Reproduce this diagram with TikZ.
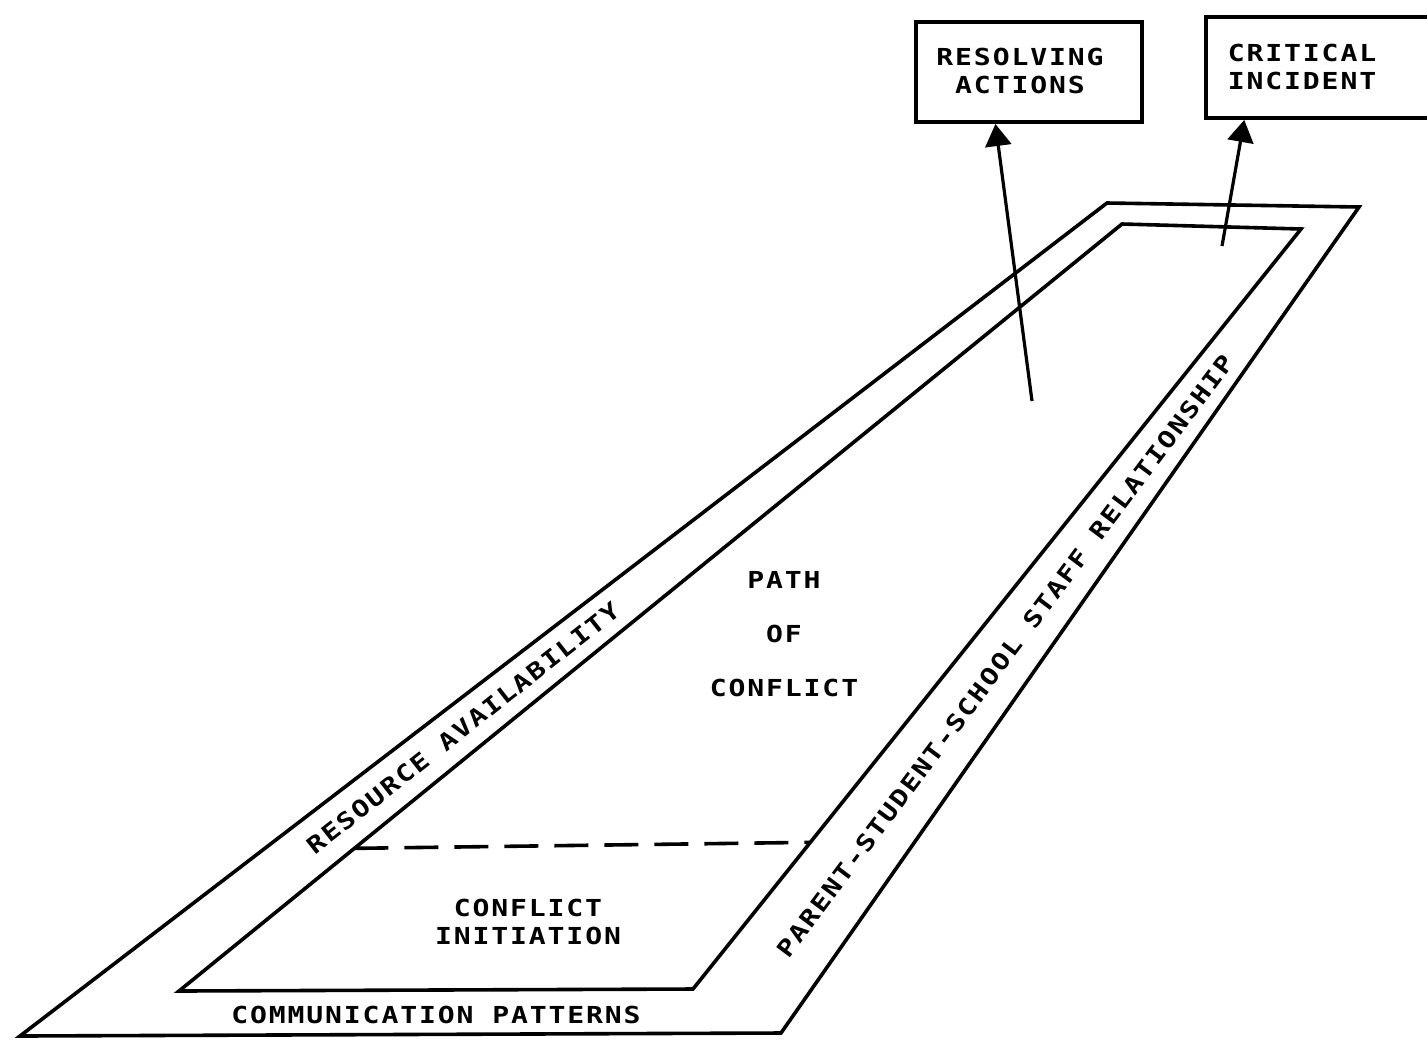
\documentclass[tikz,border=0pt]{standalone}
\usepackage{fontspec}
\newfontfamily\lbl{DejaVu Sans Mono}[FakeStretch=1.2, LetterSpace=8]
\usetikzlibrary{arrows.meta,calc}
\tikzset{
  line/.style={line width=1.8pt, line join=miter},
  lab/.style={font=\lbl\bfseries\fontsize{11.7pt}{14pt}\selectfont, inner sep=0pt, align=center},
  boxnode/.style={draw, line width=2pt, inner sep=0pt},
  conn/.style={line width=1.6pt, -{Triangle[width=13pt,length=11pt]}},
  divider/.style={line width=1.8pt, dash pattern=on 17pt off 8pt}
}
\begin{document}
\begin{tikzpicture}[x=0.5pt,y=-0.5pt]
\useasboundingbox (0,0) rectangle (1427,1039);
% outer band
\coordinate (obl) at (20,1036);
\coordinate (obr) at (781,1033);
\coordinate (otr) at (1359,207);
\coordinate (otl) at (1107,203);
% inner region
\coordinate (ibl) at (179,991);
\coordinate (ibr) at (693,989);
\coordinate (itr) at (1301,229);
\coordinate (itl) at (1122,224);
\draw[line] (obl) -- (obr) -- (otr) -- (otl) -- cycle;
\draw[line] (ibl) -- (ibr) -- (itr) -- (itl) -- cycle;
% dashed divider
\coordinate (dl) at ($(ibl)!0.186!(itl)$);
\coordinate (dr) at ($(ibr)!0.193!(itr)$);
\draw[divider] (dl) -- (dr);
% boxes
\node[boxnode, minimum width=113pt, minimum height=50pt] (rabox) at (1029,72) {};
\node[lab] (ratext) at (1020,71) {RESOLVING\\ACTIONS};
\node[boxnode, minimum width=115pt, minimum height=50.5pt] (cibox) at (1321,67.5) {};
\node[lab] (citext) at (1302,67) {CRITICAL\\INCIDENT};
% arrows
\coordinate (rastart) at (1032,401);
\coordinate (cistart) at (1222,246);
\draw[conn] (rastart) -- ($(rabox.south west)!0.354!(rabox.south east)$);
\draw[conn] (cistart) -- ($(cibox.south west)!0.172!(cibox.south east)$);
% labels
\node[lab, align=center] (path) at (784,634) {PATH\\[13pt]OF\\[13pt]CONFLICT};
\node[lab] (init) at (528,922) {CONFLICT\\INITIATION};
\node[lab] (comm) at (436,1015) {COMMUNICATION PATTERNS};
\node[lab, rotate=38.2] (res) at (463,728) {RESOURCE AVAILABILITY};
\node[lab, rotate=53.2] (rel) at (1005,656) {PARENT-STUDENT-SCHOOL STAFF RELATIONSHIP};
\end{tikzpicture}
\end{document}
